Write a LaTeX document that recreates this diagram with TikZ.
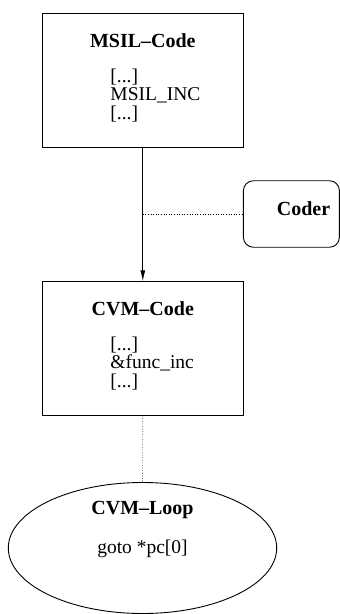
\documentclass[tikz,border=0pt]{standalone}
\usepackage{fontspec}
\setmainfont{Liberation Serif}
\usetikzlibrary{arrows.meta,shapes.geometric}
\begin{document}
\begin{tikzpicture}[x=1pt,y=-1pt,
  line width=0.9pt,
  codebox/.style={draw, rectangle, minimum width=201pt, minimum height=133.5pt, inner sep=0pt},
  title/.style={font=\fontsize{20}{20}\selectfont\bfseries, inner sep=0pt},
  body/.style={font=\fontsize{19.5}{18.7}\selectfont, align=left, inner sep=0pt, anchor=west},
  link/.style={dotted, line width=0.6pt}]
\useasboundingbox (0,0) rectangle (340,614);

% source code box
\node[codebox] (msil) at (142.8,80.3) {};
\node[title] (msiltitle) at (142.8,41) {MSIL--Code};
\node[body] (msilbody) at (110,95.5) {{[...]}\\MSIL\_INC\\{}{[...]}};

% target code box
\node[codebox] (cvm) at (142.8,348.5) {};
\node[title] (cvmtitle) at (142.8,309) {CVM--Code};
\node[body] (cvmbody) at (110,363.5) {{[...]}\\\&func\_inc\\{}{[...]}};

% translator
\node[draw, rectangle, rounded corners=10pt, minimum width=96pt, minimum height=66.5pt,
      inner sep=0pt] (coder) at (291.4,214) {};
\node[title] (codertitle) at (303.5,209) {Coder};

% interpreter loop
\node[draw, ellipse, minimum width=268.4pt, minimum height=131pt, inner sep=0pt]
  (loop) at (142.5,548) {};
\node[title] (looptitle) at (142.5,510) {CVM--Loop};
\node[font=\fontsize{19.5}{20}\selectfont, inner sep=0pt] (loopbody) at (142.5,549) {goto *pc[0]};

% connectors
\draw[-{Latex[length=11pt,width=5pt]}] (msil.south) -- (cvm.north);
\coordinate (tap) at (msil.south |- coder.west);
\draw[link] (tap) -- (coder.west);
\draw[link] (cvm.south) -- (loop.north);
\end{tikzpicture}
\end{document}
